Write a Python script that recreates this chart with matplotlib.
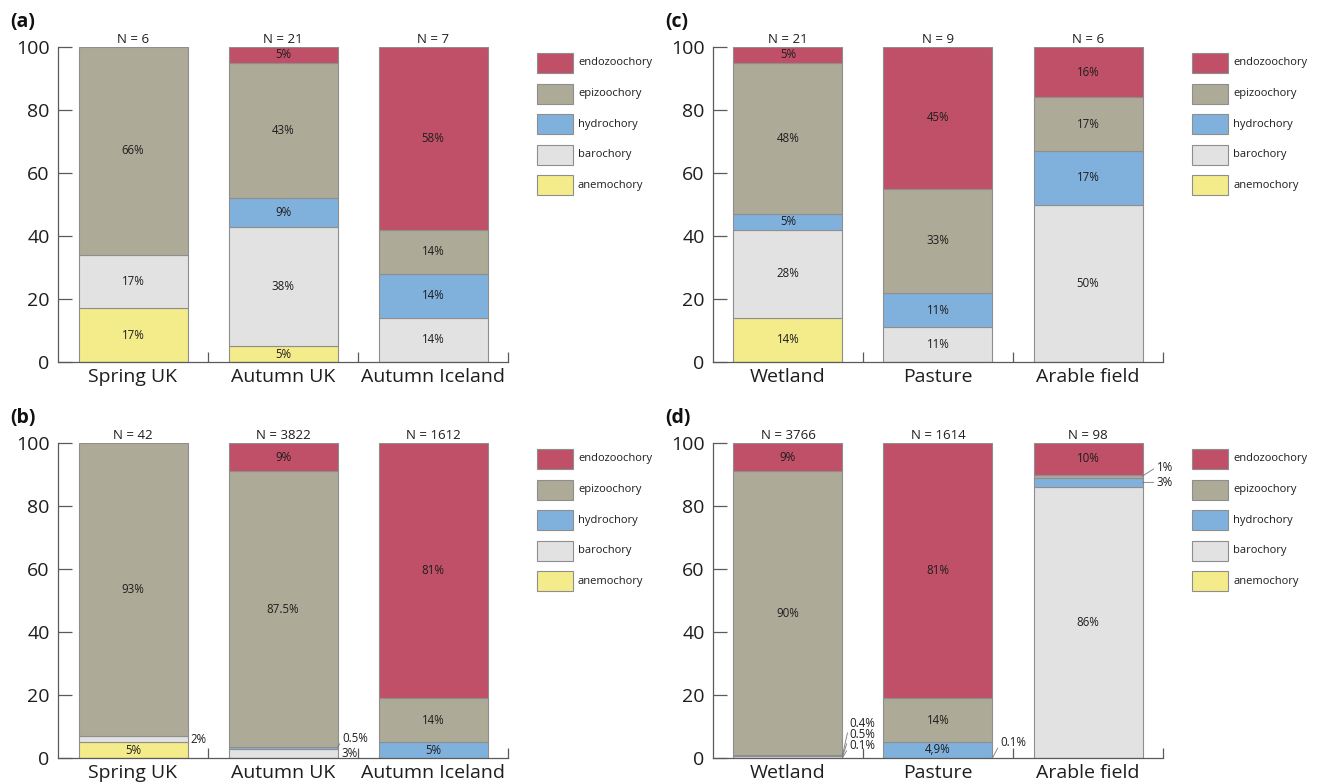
import matplotlib
matplotlib.use("Agg")
import matplotlib.pyplot as plt
from matplotlib.patches import Rectangle

plt.rcParams["font.family"] = ["Open Sans", "DejaVu Sans"]

# ---- data -------------------------------------------------------------
modes = ["anemochory", "barochory", "hydrochory", "epizoochory", "endozoochory"]
colors = {
    "endozoochory": "#C05067",
    "epizoochory": "#ADAA98",
    "hydrochory": "#80B1DC",
    "barochory": "#E1E2E1",
    "anemochory": "#F4EC8A",
}

seasons = ["Spring UK", "Autumn UK", "Autumn Iceland"]
habitats = ["Wetland", "Pasture", "Arable field"]

# (a) species per season
a_n = [6, 21, 7]
a_anemo = [17, 5, 0]
a_baro = [17, 38, 14]
a_hydro = [0, 9, 14]
a_epi = [66, 43, 14]
a_endo = [0, 5, 58]

# (b) seeds per season
b_n = [42, 3822, 1612]
b_anemo = [5, 0, 0]
b_baro = [2, 3, 0]
b_hydro = [0, 0.5, 5]
b_epi = [93, 87.5, 14]
b_endo = [0, 9, 81]

# (c) species per habitat
c_n = [21, 9, 6]
c_anemo = [14, 0, 0]
c_baro = [28, 11, 50]
c_hydro = [5, 11, 17]
c_epi = [48, 33, 17]
c_endo = [5, 45, 16]

# (d) seeds per habitat
d_n = [3766, 1614, 98]
d_anemo = [0.1, 0, 0]
d_baro = [0.5, 0.1, 86]
d_hydro = [0.4, 4.9, 3]
d_epi = [90, 14, 1]
d_endo = [9, 81, 10]

panels = [
    ("(a)", seasons, a_n, [a_anemo, a_baro, a_hydro, a_epi, a_endo]),
    ("(b)", seasons, b_n, [b_anemo, b_baro, b_hydro, b_epi, b_endo]),
    ("(c)", habitats, c_n, [c_anemo, c_baro, c_hydro, c_epi, c_endo]),
    ("(d)", habitats, d_n, [d_anemo, d_baro, d_hydro, d_epi, d_endo]),
]

# labels for thin segments drawn beside the bar:
# panel, bar, mode, text offset in pixels, leader line
side_labels = [
    ("(b)", 0, "barochory", (3, 0), False),
    ("(b)", 1, "hydrochory", (5, 9), True),
    ("(b)", 1, "barochory", (4, 0), False),
    ("(d)", 0, "hydrochory", (7, 32), True),
    ("(d)", 0, "barochory", (7, 22), True),
    ("(d)", 0, "anemochory", (7, 12), True),
    ("(d)", 1, "barochory", (8, 15), True),
    ("(d)", 2, "epizoochory", (14, 9), True),
    ("(d)", 2, "hydrochory", (14, 0), True),
]
label_text = {("(d)", 1, "hydrochory"): "4,9%"}


def pct(v):
    if float(v).is_integer():
        return f"{int(v)}%"
    return f"{v}%"


# ---- layout -----------------------------------------------------------
W, H = 1330, 784
fig = plt.figure(figsize=(W / 100, H / 100), dpi=100)

boxes = {  # left, top, right, bottom in pixels
    "(a)": (58, 47, 508, 362),
    "(b)": (58, 443, 508, 758),
    "(c)": (713, 47, 1163, 362),
    "(d)": (713, 443, 1163, 758),
}
legend_x = {"(a)": 537, "(b)": 537, "(c)": 1192, "(d)": 1192}

axis_col = "#5a5a5a"
text_col = "#1e1e1e"
bar_w = 109 / 150

for tag, cats, ns, series in panels:
    l, t, r, b = boxes[tag]
    ax = fig.add_axes([l / W, 1 - b / H, (r - l) / W, (b - t) / H])
    x = list(range(len(cats)))
    bottoms = [0.0] * len(cats)
    seg_pos = {}
    for mode, vals in zip(modes, series):
        for i, v in enumerate(vals):
            if v > 0:
                ax.bar(i, v, width=bar_w, bottom=bottoms[i], color=colors[mode],
                       edgecolor="#8e8e8e", linewidth=0.8, zorder=2)
                seg_pos[(i, mode)] = (bottoms[i], v)
                if v >= 4:
                    txt = label_text.get((tag, i, mode), pct(v))
                    ax.text(i, bottoms[i] + v / 2, txt, ha="center", va="center",
                            fontsize=8.3, color=text_col, zorder=3)
            bottoms[i] += v

    for p, i, mode, off, line in side_labels:
        if p != tag:
            continue
        b0, v = seg_pos[(i, mode)]
        txt = label_text.get((tag, i, mode), pct(v))
        ydata = b0 + v / 2
        if line:
            ax.annotate(txt, xy=(i + bar_w / 2, ydata), xytext=off,
                        textcoords="offset pixels", ha="left", va="center",
                        fontsize=8.3, color=text_col, annotation_clip=False,
                        arrowprops=dict(arrowstyle="-", color="#777777", lw=0.6,
                                        shrinkA=0, shrinkB=0,
                                        relpos=(0, 0.5)))
        else:
            ax.annotate(txt, xy=(i + bar_w / 2, ydata), xytext=off,
                        textcoords="offset pixels", ha="left", va="center",
                        fontsize=8.3, color=text_col, annotation_clip=False)

    for i, n in enumerate(ns):
        ax.text(i, 100.4, f"N = {n}", ha="center", va="bottom",
                fontsize=9.5, color=text_col)

    ax.set_xlim(-0.5, 2.5)
    ax.set_ylim(0, 100)
    ax.set_yticks(range(0, 101, 20))
    ax.set_xticks(x)
    ax.set_xticklabels(cats)
    ax.set_xticks([0.5, 1.5, 2.5], minor=True)
    ax.tick_params(axis="y", direction="in", length=10, width=0.9,
                   color=axis_col, labelsize=14, labelcolor=text_col, pad=6)
    ax.tick_params(axis="x", which="major", length=0, labelsize=14,
                   labelcolor=text_col, pad=4.5)
    ax.tick_params(axis="x", which="minor", direction="in", length=7,
                   width=0.9, color=axis_col)
    for s in ("top", "right"):
        ax.spines[s].set_visible(False)
    for s in ("left", "bottom"):
        ax.spines[s].set_color(axis_col)
        ax.spines[s].set_linewidth(0.9)
    ax.set_facecolor("none")

    fig.text((l - 48) / W, 1 - (t - 25) / H, tag, ha="left", va="center",
             fontsize=14, fontweight="bold", color="#111111")

    # legend, top entry first
    lx = legend_x[tag]
    for k, mode in enumerate(modes[::-1]):
        cy = t + 16 + k * 30.6
        fig.add_artist(Rectangle((lx / W, 1 - (cy + 10) / H), 36 / W, 20 / H,
                                 transform=fig.transFigure, facecolor=colors[mode],
                                 edgecolor="#8e8e8e", linewidth=0.8))
        fig.text((lx + 41) / W, 1 - cy / H, mode, ha="left", va="center",
                 fontsize=8, color=text_col)

fig.savefig("out.png", dpi=100)
